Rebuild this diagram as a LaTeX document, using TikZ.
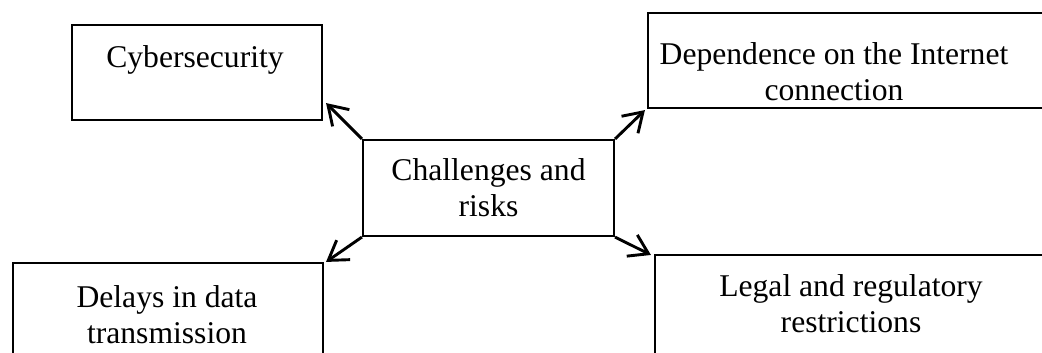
\documentclass[tikz,border=0pt]{standalone}
\usepackage{fontspec}
\setmainfont{Liberation Serif}
\usetikzlibrary{positioning,arrows.meta}
\tikzset{
  box/.style={draw, line width=0.8pt, inner sep=0pt},
  txt/.style={align=center, font=\fontsize{12}{13.6}\selectfont, inner sep=0pt},
  arr/.style={-{Straight Barb[length=7pt,width=9pt]}, line width=1.1pt}
}
\begin{document}
\begin{tikzpicture}[x=1cm/75, y=1cm/75]
\useasboundingbox (0,0) rectangle (1042,352);
\clip (0,0) rectangle (1042,352);
\node[box, minimum width=3.333cm, minimum height=1.267cm] (cyber) at (197,279.5) {};
\node[box, minimum width=6.027cm, minimum height=1.267cm] (dep) at (874,291.5) {};
\node[box, txt, minimum width=3.347cm, minimum height=1.28cm] (chal) at (488.5,164) {Challenges and\\risks};
\node[box, minimum width=4.133cm, minimum height=1.587cm] (delays) at (168,29.5) {};
\node[box, minimum width=5.933cm, minimum height=1.693cm] (legal) at (877.5,33.5) {};
\node[txt, anchor=base] (cybertxt) at (195,285) {Cybersecurity};
\node[txt] (deptxt) at (834,280) {Dependence on the Internet\\connection};
\node[txt] (delaystxt) at (167,37) {Delays in data\\transmission};
\node[txt] (legaltxt) at (851,48) {Legal and regulatory\\restrictions};
\draw[arr] (chal.north west) -- ([shift={(3,18)}]cyber.south east);
\draw[arr] (chal.north east) -- ([shift={(-2,-1)}]dep.south west);
\draw[arr] (chal.south west) -- ([shift={(2,0)}]delays.north east);
\draw[arr] (chal.south east) -- ([shift={(-3,-1)}]legal.north west);
\end{tikzpicture}
\end{document}
